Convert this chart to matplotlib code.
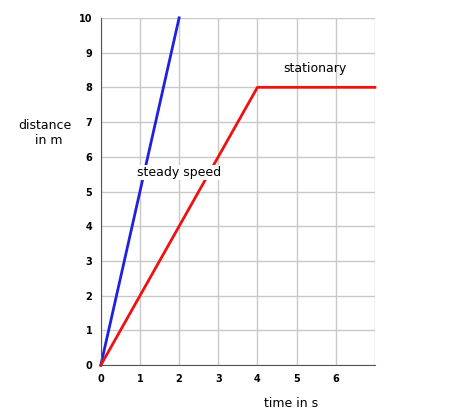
import matplotlib
matplotlib.use("Agg")
import matplotlib.pyplot as plt

blue_t = [0, 2]
blue_d = [0, 10]
red_t = [0, 4, 7]
red_d = [0, 8, 8]
xticks = [0, 1, 2, 3, 4, 5, 6]
yticks = list(range(0, 11))

fig = plt.figure(figsize=(4.71, 4.15), dpi=100)
ax = fig.add_axes([0.214, 0.120, 0.582, 0.837])
ax.set_xlim(0, 7)
ax.set_ylim(0, 10)
ax.set_xticks(list(range(0, 8)))
ax.set_xticklabels([str(t) for t in xticks] + [""])
ax.set_yticks(yticks)
ax.set_yticklabels([str(t) for t in yticks])
ax.grid(True, color="#c8c8c8", lw=1)
ax.set_axisbelow(True)
for s in ["top", "right"]:
    ax.spines[s].set_visible(False)
ax.spines["left"].set_color("#555555")
ax.spines["bottom"].set_color("#555555")
ax.tick_params(length=0, labelsize=7, pad=6)
for lab in ax.get_xticklabels() + ax.get_yticklabels():
    lab.set_fontweight("bold")
ax.plot(blue_t, blue_d, color="#2020e0", lw=2, clip_on=False)
ax.plot(red_t, red_d, color="#f01010", lw=2, clip_on=False)
ax.text(2.0, 5.55, "steady speed", ha="center", va="center", fontsize=9,
        bbox=dict(facecolor="white", edgecolor="none", pad=1))
ax.text(5.47, 8.55, "stationary", ha="center", va="center", fontsize=9)
fig.text(45/471, 1-133/415, "distance\n  in m", ha="center", va="center", fontsize=9)
fig.text(291/471, 1-403/415, "time in s", ha="center", va="center", fontsize=9)
fig.savefig("out.png", dpi=100)
